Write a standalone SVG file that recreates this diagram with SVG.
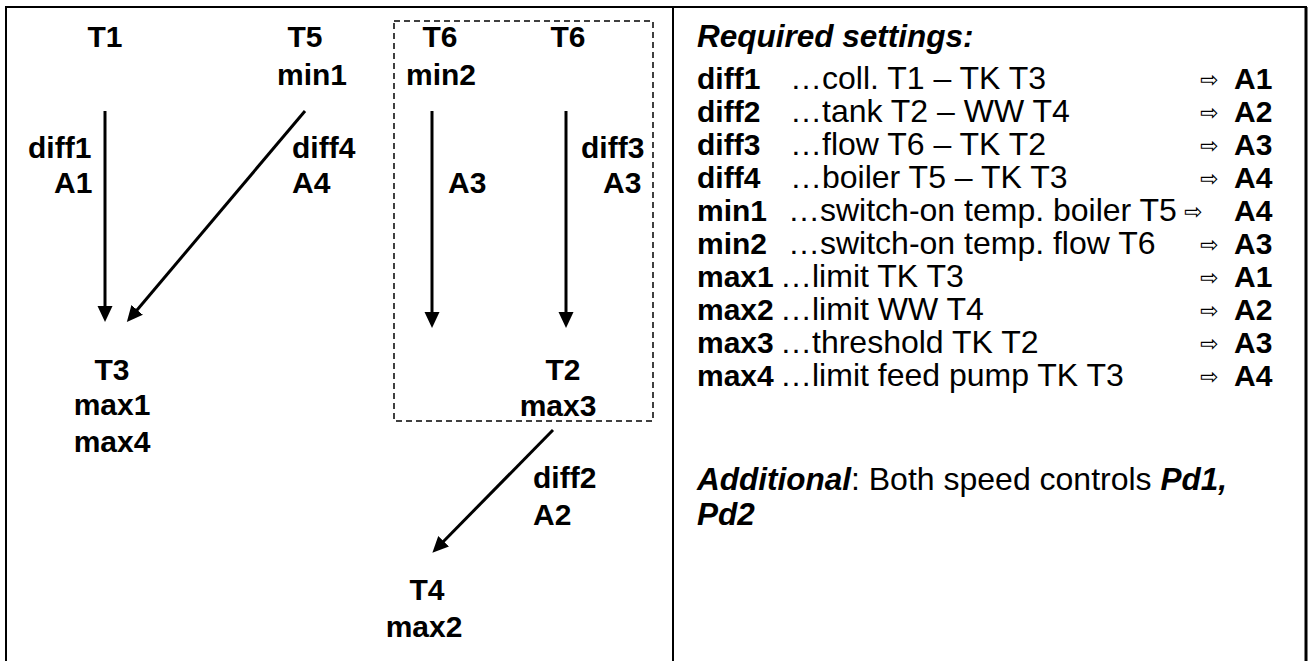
<svg xmlns="http://www.w3.org/2000/svg" width="1308" height="661" viewBox="0 0 1308 661">
<style>
.b{font-family:"Liberation Sans",Arial,sans-serif;font-weight:bold;font-size:30px;fill:#000}
.r{font-family:"Liberation Sans",Arial,sans-serif;font-size:32px;fill:#000}
.bi{font-family:"Liberation Sans",Arial,sans-serif;font-weight:bold;font-style:italic;font-size:31.5px;fill:#000}
.ar{font-family:"DejaVu Sans",sans-serif;font-size:22px;fill:#000}
.c{text-anchor:middle}
.edge{stroke:#000;stroke-width:3;fill:none;marker-end:url(#ah)}
.frame{stroke:#000;stroke-width:2;fill:none}
</style>
<defs>
<marker id="ah" markerUnits="userSpaceOnUse" markerWidth="16" markerHeight="16" refX="8" refY="8" orient="auto">
<path d="M0,0.5 L16,8 L0,15.5 Z" fill="#000"/>
</marker>
</defs>
<rect width="1308" height="661" fill="#fff"/>
<g id="frame">
<line class="frame" x1="5" y1="7" x2="1307" y2="7"/>
<line class="frame" x1="6" y1="7" x2="6" y2="661"/>
<line class="frame" x1="673" y1="7" x2="673" y2="661"/>
<line x1="1306" y1="7" x2="1306" y2="661" stroke="#000" stroke-width="3"/>
</g>
<g id="group-T6-T2">
<rect x="394" y="21" width="259" height="400" fill="none" stroke="#000" stroke-width="1.5" stroke-dasharray="6,4"/>
</g>
<g id="connectors">
<line class="edge" x1="105" y1="111" x2="105" y2="314"/>
<line class="edge" x1="305" y1="111" x2="132" y2="316"/>
<line class="edge" x1="432" y1="111" x2="432" y2="320"/>
<line class="edge" x1="566" y1="111" x2="566" y2="320"/>
<line class="edge" x1="553" y1="430" x2="438" y2="547"/>
<text class="b" x="28" y="158">diff1</text>
<text class="b" x="54" y="193">A1</text>
<text class="b" x="292" y="158">diff4</text>
<text class="b" x="292" y="193">A4</text>
<text class="b" x="448" y="193">A3</text>
<text class="b" x="581" y="158">diff3</text>
<text class="b" x="603" y="193">A3</text>
<text class="b" x="533" y="488">diff2</text>
<text class="b" x="533" y="525">A2</text>
</g>
<g id="T1"><text class="b c" x="105" y="47">T1</text></g>
<g id="T5"><text class="b c" x="305" y="47">T5</text><text class="b c" x="312" y="85">min1</text></g>
<g id="T6-min2"><text class="b c" x="440" y="47">T6</text><text class="b c" x="441" y="85">min2</text></g>
<g id="T6-diff3"><text class="b c" x="568" y="47">T6</text></g>
<g id="T3"><text class="b c" x="112" y="380">T3</text><text class="b c" x="112" y="415">max1</text><text class="b c" x="112" y="452">max4</text></g>
<g id="T2"><text class="b c" x="563" y="380">T2</text><text class="b c" x="558" y="416">max3</text></g>
<g id="T4"><text class="b c" x="427" y="600">T4</text><text class="b c" x="424" y="637">max2</text></g>
<g id="settings">
<text class="bi" x="697" y="47">Required settings:</text>
<text class="b" x="697" y="89">diff1</text><text class="r" x="790" y="89">…coll. T1 – TK T3</text><text class="ar" x="1200" y="87">⇨</text><text class="b" x="1234" y="89">A1</text>
<text class="b" x="697" y="122">diff2</text><text class="r" x="790" y="122">…tank T2 – WW T4</text><text class="ar" x="1200" y="120">⇨</text><text class="b" x="1234" y="122">A2</text>
<text class="b" x="697" y="155">diff3</text><text class="r" x="790" y="155">…flow T6 – TK T2</text><text class="ar" x="1200" y="153">⇨</text><text class="b" x="1234" y="155">A3</text>
<text class="b" x="697" y="188">diff4</text><text class="r" x="790" y="188">…boiler T5 – TK T3</text><text class="ar" x="1200" y="186">⇨</text><text class="b" x="1234" y="188">A4</text>
<text class="b" x="697" y="221">min1</text><text class="r" x="788" y="221">…switch-on temp. boiler T5</text><text class="ar" x="1184" y="219">⇨</text><text class="b" x="1234" y="221">A4</text>
<text class="b" x="697" y="254">min2</text><text class="r" x="788" y="254">…switch-on temp. flow T6</text><text class="ar" x="1200" y="252">⇨</text><text class="b" x="1234" y="254">A3</text>
<text class="b" x="697" y="287">max1</text><text class="r" x="780" y="287">…limit TK T3</text><text class="ar" x="1200" y="285">⇨</text><text class="b" x="1234" y="287">A1</text>
<text class="b" x="697" y="320">max2</text><text class="r" x="780" y="320">…limit WW T4</text><text class="ar" x="1200" y="318">⇨</text><text class="b" x="1234" y="320">A2</text>
<text class="b" x="697" y="353">max3</text><text class="r" x="780" y="353">…threshold TK T2</text><text class="ar" x="1200" y="351">⇨</text><text class="b" x="1234" y="353">A3</text>
<text class="b" x="697" y="386">max4</text><text class="r" x="780" y="386">…limit feed pump TK T3</text><text class="ar" x="1200" y="384">⇨</text><text class="b" x="1234" y="386">A4</text>
<text x="697" y="490"><tspan class="bi">Additional</tspan><tspan class="r">: Both speed controls </tspan><tspan class="bi">Pd1,</tspan></text>
<text class="bi" x="697" y="525">Pd2</text>
</g>
</svg>
